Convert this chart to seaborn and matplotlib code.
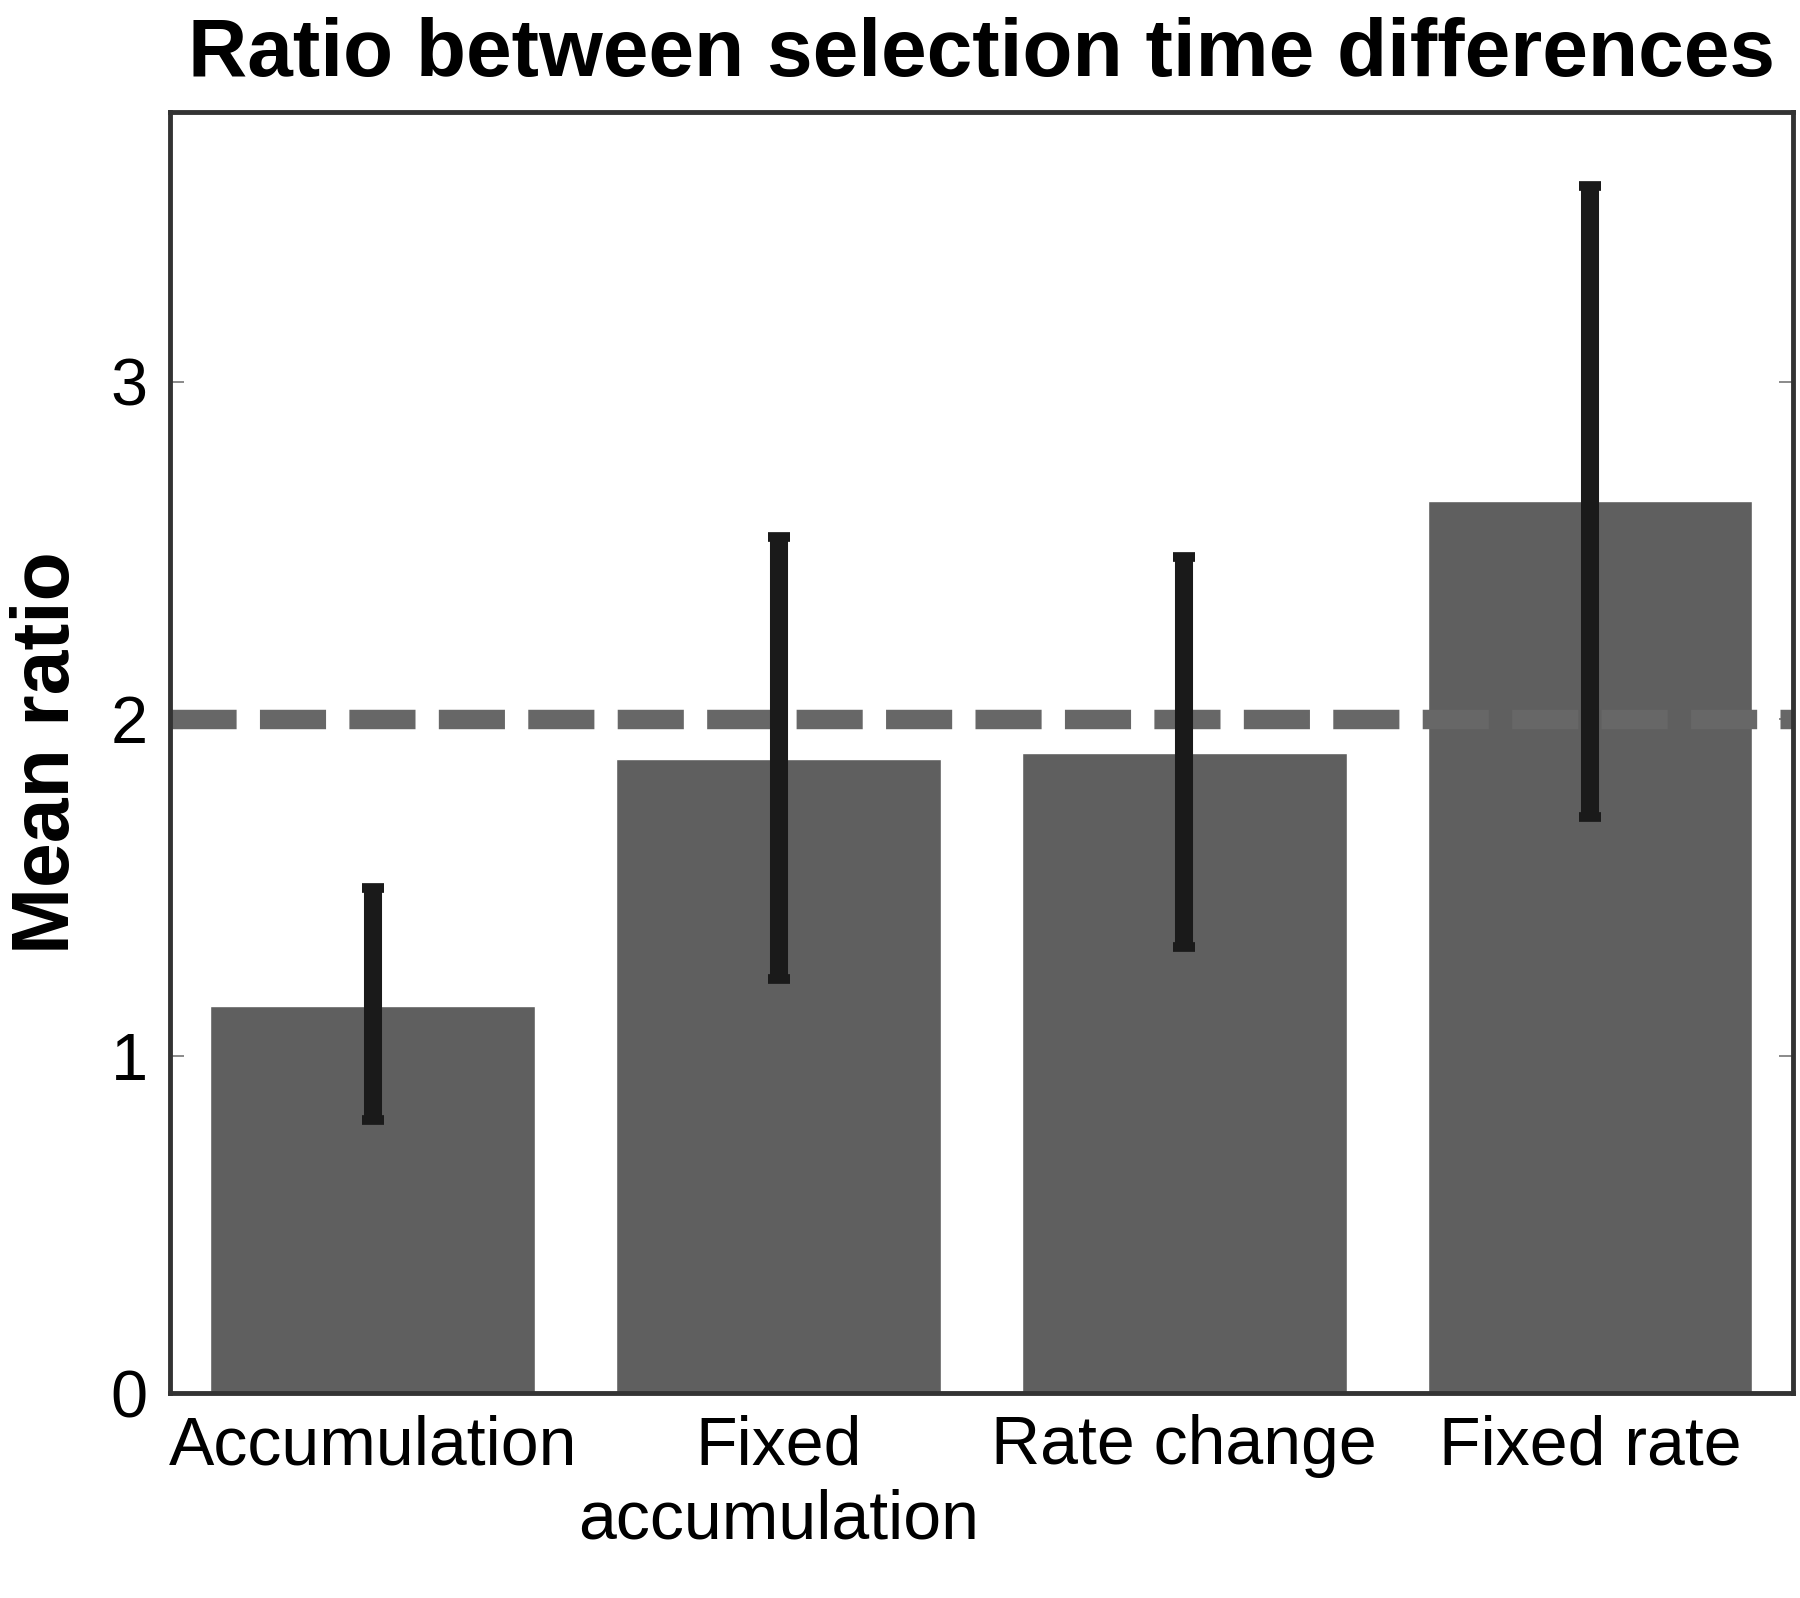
import matplotlib
matplotlib.use("Agg")
import matplotlib.pyplot as plt
import pandas as pd
import seaborn as sns

# ---- Data
#
categories = ["Accumulation", "Fixed\naccumulation", "Rate change", "Fixed rate"]
mean_ratio = [1.15, 1.88, 1.90, 2.645]
err_low = [0.81, 1.23, 1.325, 1.71]
err_high = [1.50, 2.54, 2.48, 3.58]
reference_ratio = 2.0

df = pd.DataFrame({"model": categories, "ratio": mean_ratio})

sns.set_style("white")
plt.rcParams["font.family"] = ["Liberation Sans", "DejaVu Sans"]
plt.rcParams["text.color"] = "black"
plt.rcParams["xtick.color"] = "black"
plt.rcParams["ytick.color"] = "black"

fig = plt.figure(figsize=(18, 15.98), dpi=100)
ax = fig.add_axes([0.0944, 0.128, 0.9016, 0.802])

sns.barplot(data=df, x="model", y="ratio", color="#5f5f5f", saturation=1,
            width=0.8, errorbar=None, ax=ax, zorder=2)

# ---- Reference line at ratio 2
#
ax.axhline(reference_ratio, color="#676767", lw=14, dashes=(3.4, 1.2), zorder=3)

# ---- Error bars
#
yerr = [[m - lo for m, lo in zip(mean_ratio, err_low)],
        [hi - m for m, hi in zip(mean_ratio, err_high)]]
ax.errorbar(range(len(categories)), mean_ratio, yerr=yerr, fmt="none",
            ecolor="#1a1a1a", elinewidth=13, capsize=8, capthick=7, zorder=4)

ax.set_xlim(-0.5, 3.5)
ax.set_ylim(0, 3.8)
ax.set_yticks([0, 1, 2, 3])
ax.set_xlabel("")
ax.set_ylabel("Mean ratio", fontsize=58, fontweight="bold", labelpad=18,
              color="black")
ax.set_title("Ratio between selection time differences", fontsize=59,
             fontweight="bold", pad=26, color="black")

ax.tick_params(axis="y", which="both", direction="in", length=10, width=1.2,
               color="#777777", labelcolor="black", left=True, right=True,
               labelsize=48, pad=16)
ax.tick_params(axis="x", length=0, labelsize=49, labelcolor="black", pad=15)

for spine in ax.spines.values():
    spine.set_color("#333333")
    spine.set_linewidth(3.5)
    spine.set_zorder(5)

fig.savefig("out.png", dpi=100)
